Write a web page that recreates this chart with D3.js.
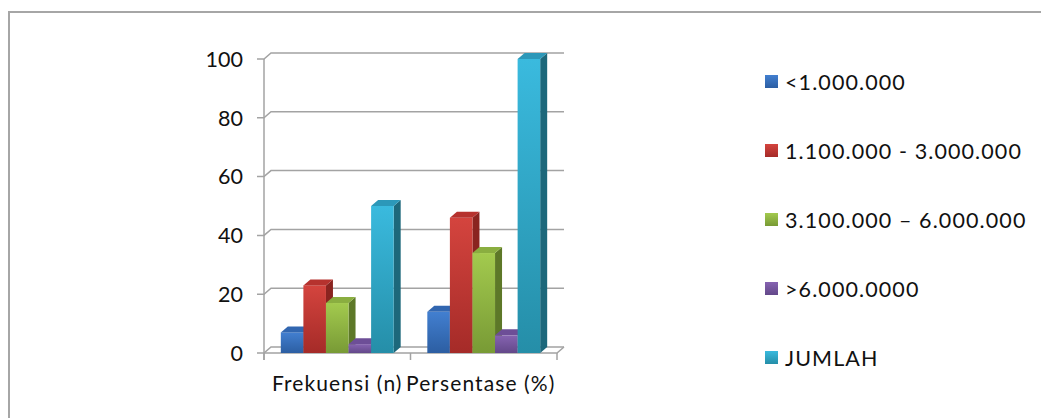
<!DOCTYPE html>
<html>
<head>
<meta charset="utf-8">
<script src="https://cdn.jsdelivr.net/npm/d3@7"></script>
<style>
  html, body { margin: 0; padding: 0; background: #fff; }
  svg { display: block; font-family: Lato, "Open Sans", sans-serif; }
</style>
</head>
<body>
<svg id="chart" width="1041" height="418"></svg>
<script>
// Income bands and the two measures shown for each
const categories = ["Frekuensi (n)", "Persentase (%)"];
const series = ["<1.000.000", "1.100.000 - 3.000.000", "3.100.000 \u2013 6.000.000", ">6.000.0000", "JUMLAH"];
const frekuensi = [7, 23, 17, 3, 50];
const persentase = [14, 46, 34, 6, 100];
const yTicks = [0, 20, 40, 60, 80, 100];

// Face colours per series: front gradient (top, bottom), side, top
const faceColors = [
  { front: ["#427fd0", "#2c5ea2"], side: "#284f88", top: "#3166b0" },
  { front: ["#d4443e", "#a52b28"], side: "#8a2420", top: "#b6322e" },
  { front: ["#a3ca4e", "#789a35"], side: "#5d7828", top: "#8aae40" },
  { front: ["#8663b1", "#634889"], side: "#4f3774", top: "#6d4e97" },
  { front: ["#3abade", "#258ea8"], side: "#1d687b", top: "#2c98b9" }
];

const values = [frekuensi, persentase];

const svg = d3.select("#chart");
const depthX = 7, depthY = -6;
const gridColor = "#a3a3a3";

// Outer frame
svg.append("rect")
  .attr("x", 9).attr("y", 12)
  .attr("width", 1060).attr("height", 440)
  .attr("fill", "none")
  .attr("stroke", "#a6a6a6")
  .attr("stroke-width", 2);

const x0 = d3.scaleBand().domain(categories).range([264, 557]).padding(0);
const x1 = d3.scaleBand().domain(series).range([0, x0.bandwidth()]).paddingInner(0).paddingOuter(0.745);
const y = d3.scaleLinear().domain([0, 100]).range([353, 59]);

const defs = svg.append("defs");
faceColors.forEach((c, i) => {
  const g = defs.append("linearGradient")
    .attr("id", "front" + i)
    .attr("x1", 0).attr("y1", 0).attr("x2", 0).attr("y2", 1);
  g.append("stop").attr("offset", "0%").attr("stop-color", c.front[0]);
  g.append("stop").attr("offset", "100%").attr("stop-color", c.front[1]);
});

// Back wall gridlines with the receding link from the front axis
const grid = svg.append("g");
yTicks.forEach(t => {
  const yy = y(t);
  grid.append("path")
    .attr("d", `M${x0.range()[0] - 7},${yy} L${x0.range()[0]},${yy} L${x0.range()[0] + depthX},${yy + depthY} L${x0.range()[1] + depthX},${yy + depthY}`)
    .attr("fill", "none").attr("stroke", gridColor).attr("stroke-width", 1.5);
});
// Floor front edge and right edge
grid.append("path")
  .attr("d", `M${x0.range()[0]},${y(0)} L${x0.range()[1]},${y(0)} L${x0.range()[1] + depthX},${y(0) + depthY}`)
  .attr("fill", "none").attr("stroke", gridColor).attr("stroke-width", 1.5);
// Vertical value axis
grid.append("line")
  .attr("x1", x0.range()[0]).attr("x2", x0.range()[0])
  .attr("y1", y(100)).attr("y2", y(0) + 7)
  .attr("stroke", gridColor).attr("stroke-width", 1.5);
// Category ticks
const catEdges = categories.map(c => x0(c)).concat([x0.range()[1]]);
catEdges.forEach(xx => {
  grid.append("line")
    .attr("x1", xx).attr("x2", xx)
    .attr("y1", y(0)).attr("y2", y(0) + 7)
    .attr("stroke", gridColor).attr("stroke-width", 1.5);
});

// Value labels
svg.append("g").selectAll("text")
  .data(yTicks).join("text")
  .attr("x", 243).attr("y", d => y(d))
  .attr("dy", "0.36em")
  .attr("text-anchor", "end")
  .attr("font-size", 21.5)
  .attr("fill", "#111")
  .text(d => d);

// 3D columns: front, side, then top face; drawn left to right
const bars = svg.append("g");
categories.forEach((cat, ci) => {
  series.forEach((s, si) => {
    const v = values[ci][si];
    const xl = x0(cat) + x1(s);
    const w = x1.bandwidth();
    const yt = y(v), yb = y(0);
    const c = faceColors[si];
    const g = bars.append("g");
    g.append("path")
      .attr("d", `M${xl + w},${yt} L${xl + w + depthX},${yt + depthY} L${xl + w + depthX},${yb + depthY} L${xl + w},${yb} Z`)
      .attr("fill", c.side);
    g.append("rect")
      .attr("x", xl).attr("y", yt)
      .attr("width", w).attr("height", yb - yt)
      .attr("fill", `url(#front${si})`);
    g.append("path")
      .attr("d", `M${xl},${yt} L${xl + depthX},${yt + depthY} L${xl + w + depthX},${yt + depthY} L${xl + w},${yt} Z`)
      .attr("fill", c.top);
  });
});

// Category labels
svg.append("g").selectAll("text")
  .data(categories).join("text")
  .attr("x", (d, i) => x0(d) + x0.bandwidth() / 2 - i * 3)
  .attr("y", 391)
  .attr("text-anchor", "middle")
  .attr("font-size", 21)
  .attr("letter-spacing", 1.1)
  .attr("fill", "#111")
  .text(d => d);

// Legend
const legend = svg.append("g");
const legendY = d3.scalePoint().domain(series).range([82, 358]);
series.forEach((s, i) => {
  const yy = legendY(s);
  legend.append("rect")
    .attr("x", 765).attr("y", yy - 7)
    .attr("width", 13).attr("height", 13)
    .attr("fill", `url(#front${i})`);
  legend.append("text")
    .attr("x", 785).attr("y", yy)
    .attr("dy", "0.36em")
    .attr("font-size", 21.5)
    .attr("letter-spacing", 1.1)
    .attr("fill", "#111")
    .text(s);
});
</script>
</body>
</html>
